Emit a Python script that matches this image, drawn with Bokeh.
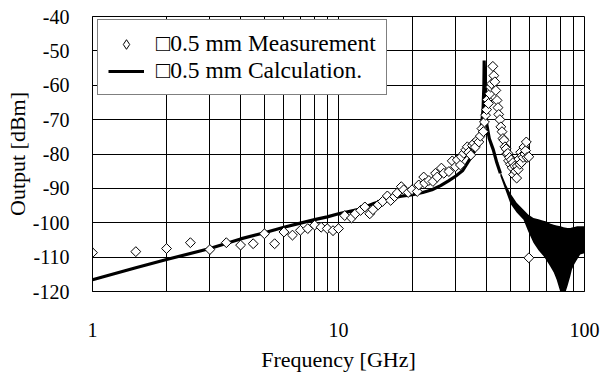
import numpy as np
from bokeh.plotting import figure
from bokeh.models import FixedTicker, Legend, LegendItem
from bokeh.embed import file_html
from bokeh.resources import INLINE

# ---- data ----
meas_freq = [1.0, 1.5, 2.0, 2.5, 3.0, 3.5, 4.0, 4.5, 5.0, 5.5, 6.0, 6.5, 7.0, 7.5, 8.0, 8.5, 9.0, 9.5, 10.0,
             10.6, 11.3, 11.7, 12.3, 12.8, 13.4, 13.8, 14.5, 15.1, 15.8, 16.3, 16.9, 17.3, 18.0, 18.4, 19.2,
             19.9, 20.9, 21.2, 22.2, 22.4, 23.3, 24.2, 24.8, 25.2, 26.2, 26.8, 28.1, 29.0, 29.9, 30.4, 31.3,
             31.6, 32.3, 32.9, 33.4, 33.8, 34.5, 35.0, 35.5, 36.0, 36.6, 37.2, 37.7, 38.3, 38.8, 39.2, 39.6,
             40.0, 40.3, 40.7, 41.2, 41.5, 41.9, 42.4, 42.8, 43.2, 43.6, 44.1, 44.5, 44.8, 45.3, 45.7, 46.2,
             46.6, 47.1, 47.5, 48.0, 48.3, 48.8, 49.1, 49.6, 50.0, 50.4, 50.8, 51.2, 51.5, 52.0, 52.5, 53.0,
             53.3, 53.8, 54.1, 54.6, 55.0, 55.4, 55.8, 56.3, 56.7, 57.2, 57.6, 58.0, 58.4, 59.4, 59.4]
meas_dbm = [-108.7, -108.4, -107.5, -105.8, -107.8, -105.8, -106.5, -106.1, -103.2, -106.1, -102.7, -103.6,
            -102.2, -101.7, -100.7, -101.3, -101.7, -102.3, -101.7,
            -97.9, -98.6, -97.4, -96.4, -95.4, -97.4, -96.2, -94.8, -93.8, -92.2, -93.5, -92.4, -91.4, -89.5,
            -90.4, -91.2, -90.4, -90.9, -89.0, -86.7, -88.5, -87.7, -88.0, -85.6, -86.7, -84.1, -85.6, -85.1,
            -82.0, -83.7, -81.7, -83.2, -80.8, -79.8, -78.8, -77.9, -79.5, -80.3, -77.5, -76.9, -78.0, -76.0,
            -76.5, -74.8, -72.6, -73.5, -70.7, -68.7, -67.1, -64.2, -65.3, -62.5, -60.5, -59.6, -54.5, -57.2,
            -59.0, -61.5, -64.4, -66.5, -68.5, -70.0, -72.1, -73.5, -75.5, -76.0, -77.9, -78.5, -80.0, -79.8,
            -82.0, -81.0, -83.0, -81.7, -84.0, -82.5, -86.0, -83.5, -85.0, -87.0, -83.5, -84.5, -81.5, -83.0,
            -79.5, -82.5, -80.5, -81.0, -78.0, -80.0, -79.0, -76.5, -81.0, -80.8, -110.2]

calc_freq = [1.0, 1.5, 2.0, 3.0, 4.0, 5.0, 6.0, 7.0, 8.0, 9.0, 10.0, 12.0, 14.0, 16.0, 18.0, 20.0, 22.0,
             24.0, 26.0, 28.0, 30.0, 32.0, 34.0, 35.5, 36.5, 37.5, 38.2, 38.7, 39.0, 39.1, 39.3, 39.6, 40.0,
             41.0, 42.6, 44.0, 45.5]
calc_dbm = [-116.6, -113.1, -110.7, -107.5, -104.7, -102.9, -101.3, -100.1, -99.1, -98.3, -97.4, -96.2,
            -94.3, -93.0, -92.3, -91.8, -91.2, -90.4, -89.2, -87.8, -86.4, -84.8, -81.8, -79.5, -77.5, -74.5,
            -71.1, -67.0, -60.0, -52.8, -58.0, -66.0, -71.1, -75.5, -78.8, -82.5, -85.6]

band_freq = [45.5, 48.0, 50.0, 53.0, 56.5, 59.0, 62.0, 65.0, 68.1, 70.1, 72.4, 75.0, 77.0, 79.9, 82.1,
             85.3, 87.6, 88.9, 91.0, 93.3, 96.1, 100.0]
band_upper = [-85.0, -89.0, -91.5, -94.2, -96.2, -97.6, -98.6, -99.0, -99.4, -99.6, -100.2, -100.6,
              -100.8, -101.0, -101.3, -101.5, -101.5, -101.4, -101.2, -101.0, -101.0, -101.0]
band_lower = [-86.4, -91.0, -94.5, -97.0, -99.1, -102.5, -105.8, -108.0, -109.7, -111.0, -112.6, -114.5,
              -116.5, -120.3, -122.0, -118.4, -115.5, -113.6, -112.0, -110.7, -109.2, -108.9]

x_major = [1, 10, 100]
x_labels = ["1", "10", "100"]
x_minor = [2, 3, 4, 5, 6, 7, 8, 9, 20, 30, 40, 50, 60, 70, 80, 90]
y_ticks = [-120, -110, -100, -90, -80, -70, -60, -50, -40]
y_labels = ["-120", "-110", "-100", "-90", "-80", "-70", "-60", "-50", "-40"]

FONT = "Liberation Serif"

p = figure(width=603, height=374, x_axis_type="log", x_range=(1, 100), y_range=(-120, -40),
           output_backend="svg", toolbar_location=None,
           min_border_left=92, min_border_right=19, min_border_top=16, min_border_bottom=82)
p.background_fill_color = "white"
p.border_fill_color = "white"
p.outline_line_color = "black"
p.outline_line_width = 1

p.xaxis.ticker = FixedTicker(ticks=x_major, minor_ticks=x_minor)
p.yaxis.ticker = FixedTicker(ticks=y_ticks)
p.xaxis.major_label_overrides = dict(zip(x_major, x_labels))
p.yaxis.major_label_overrides = dict(zip(y_ticks, y_labels))
for ax in (p.xaxis, p.yaxis):
    ax.major_tick_line_color = None
    ax.minor_tick_line_color = None
    ax.axis_line_color = "black"
    ax.major_label_text_font = FONT
    ax.major_label_text_font_size = "20px"
    ax.major_label_text_color = "black"
    ax.axis_label_text_font = FONT
    ax.axis_label_text_font_size = "22px"
    ax.axis_label_text_font_style = "normal"
    ax.axis_label_text_color = "black"
p.xaxis.major_label_standoff = 25
p.yaxis.major_label_standoff = 17
p.xaxis.axis_label = "Frequency [GHz]"
p.yaxis.axis_label = "Output [dBm]"
p.xaxis.axis_label_standoff = 7
p.yaxis.axis_label_standoff = 0

p.xgrid.grid_line_color = "black"
p.xgrid.minor_grid_line_color = "black"
p.ygrid.grid_line_color = "black"
p.xgrid.grid_line_width = 1
p.ygrid.grid_line_width = 1

band = p.varea(x=band_freq, y1=band_upper, y2=band_lower, fill_color="black")
ln = p.line(x=calc_freq, y=calc_dbm, line_color="black", line_width=3.2)
# diamond used for the legend symbol; hidden underneath the rotated squares
sc_leg = p.scatter(x=meas_freq, y=meas_dbm, marker="diamond", size=8,
                   fill_color="white", line_color="black", line_width=1)
sc = p.scatter(x=meas_freq, y=meas_dbm, marker="square", angle=np.pi / 4, size=7,
               fill_color="white", line_color="black", line_width=1)

legend = Legend(items=[LegendItem(label="\u25a10.5 mm Measurement", renderers=[sc_leg]),
                       LegendItem(label="\u25a10.5 mm Calculation.", renderers=[ln])],
                location=(5, 196))
legend.label_text_font = FONT
legend.label_text_font_size = "23.5px"
legend.label_text_color = "black"
legend.border_line_color = "black"
legend.border_line_width = 1
legend.background_fill_color = "white"
legend.background_fill_alpha = 1
legend.padding = 10
legend.spacing = 0
legend.glyph_width = 36
legend.glyph_height = 24
legend.label_height = 24
legend.label_standoff = 12
legend.margin = 0
p.add_layout(legend)

open("out.html", "w").write(file_html(p, INLINE))
